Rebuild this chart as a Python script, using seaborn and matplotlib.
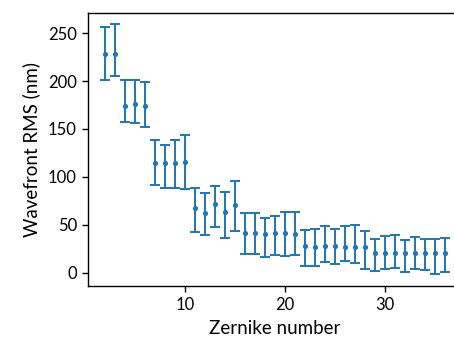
import matplotlib
matplotlib.use("Agg")
import matplotlib.pyplot as plt
import numpy as np
import pandas as pd
import seaborn as sns

# Zernike mode index and the RMS wavefront error per mode (nm)
zernike = list(range(2, 37))
rms_nm = [228.7, 228.7, 174.4, 175.9, 174.1, 114.2, 114.2, 114.6, 115.3,
          67.0, 62.3, 71.7, 63.7, 70.8,
          41.1, 41.1, 40.8, 41.1, 41.0, 40.8,
          27.5, 26.8, 28.2, 27.4, 27.2, 27.2, 27.2,
          20.2, 20.2, 20.2, 20.2, 20.2, 20.2, 20.2, 20.2]
# Lower and upper ends of each error bar (nm)
rms_low = [200.9, 205.7, 157.7, 156.6, 152.5, 91.3, 87.8, 87.8, 87.5,
           42.8, 39.4, 47.4, 35.9, 43.7,
           19.9, 19.9, 16.4, 18.8, 17.5, 18.1,
           6.7, 6.7, 11.5, 9.4, 11.9, 10.4, 4.2,
           1.5, 4.2, 5.2, 0.4, 3.5, 2.6, -1.0, 1.0]
rms_high = [256.9, 259.0, 201.5, 201.5, 199.1, 138.3, 133.0, 138.3, 143.2,
            88.5, 83.5, 90.9, 84.6, 95.8,
            62.3, 62.3, 56.8, 59.5, 62.8, 63.4,
            44.9, 46.0, 49.1, 46.0, 49.1, 50.1, 43.9,
            35.5, 37.9, 39.5, 34.1, 36.8, 35.5, 34.7, 36.6]

df = pd.DataFrame({"zernike": zernike, "rms": rms_nm,
                   "low": rms_low, "high": rms_high})

sns.set_style("ticks")
plt.rcParams["font.family"] = ["Lato", "DejaVu Sans"]
plt.rcParams["text.color"] = "black"
plt.rcParams["axes.labelcolor"] = "black"

fig = plt.figure(figsize=(4.54, 3.46), dpi=100)
# axes run past the right edge of the canvas
ax = fig.add_axes([88 / 454, 60 / 346, 374 / 454, 273 / 346])

color = "#1f77b4"
yerr = np.vstack([df["rms"] - df["low"], df["high"] - df["rms"]])
ax.errorbar(df["zernike"], df["rms"], yerr=yerr, fmt="none",
            ecolor=color, elinewidth=1.4, capsize=3.4, capthick=1.4)
sns.scatterplot(data=df, x="zernike", y="rms", ax=ax, color=color,
                s=14, edgecolor=color, linewidth=0, zorder=3)

ax.set_xlim(0.3, 37.7)
ax.set_ylim(-14, 271)
ax.set_xticks([10, 20, 30])
ax.set_yticks([0, 50, 100, 150, 200, 250])
ax.set_xlabel("Zernike number", fontsize=13.5, labelpad=5)
ax.set_ylabel("Wavefront RMS (nm)", fontsize=13.5, labelpad=6)
ax.tick_params(labelsize=12, length=4, width=1, colors="black", pad=4)
for s in ax.spines.values():
    s.set_color("black")
    s.set_linewidth(1)

fig.savefig("out.png", dpi=100)
